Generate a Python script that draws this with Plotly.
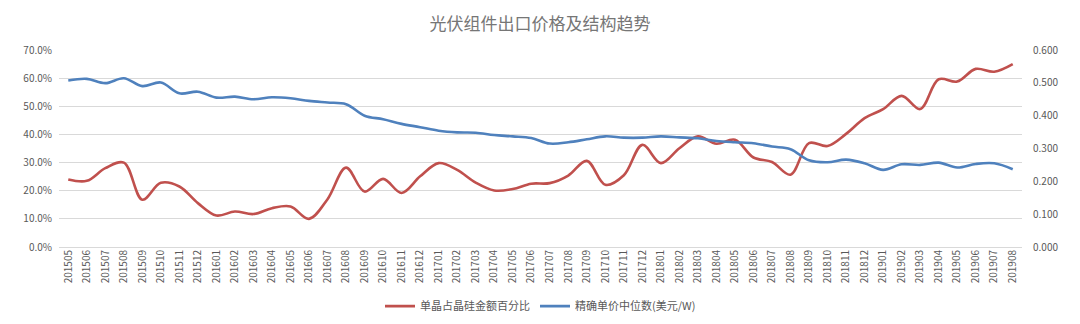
import plotly.graph_objects as go

months = [
    "201505", "201506", "201507", "201508", "201509", "201510", "201511", "201512",
    "201601", "201602", "201603", "201604", "201605", "201606", "201607", "201608",
    "201609", "201610", "201611", "201612", "201701", "201702", "201703", "201704",
    "201705", "201706", "201707", "201708", "201709", "201710", "201711", "201712",
    "201801", "201802", "201803", "201804", "201805", "201806", "201807", "201808",
    "201809", "201810", "201811", "201812", "201901", "201902", "201903", "201904",
    "201905", "201906", "201907", "201908",
]

# 单晶占晶硅金额百分比 (%)
mono_share = [
    24.0, 23.5, 28.0, 30.0, 16.8, 22.8, 21.5, 15.6, 11.2, 12.6, 11.7, 13.8, 14.4,
    10.0, 17.0, 28.2, 19.7, 24.2, 19.2, 25.1, 29.8, 27.4, 22.9, 20.1, 20.6, 22.5,
    22.7, 25.4, 30.6, 22.1, 25.5, 36.3, 29.8, 35.1, 39.3, 36.7, 38.1, 31.8, 30.2,
    25.7, 36.9, 35.9, 40.2, 45.8, 49.0, 53.7, 49.0, 59.6, 58.8, 63.3, 62.3, 65.0,
]

# 精确单价中位数 (美元/W)
median_price = [
    0.507, 0.512, 0.499, 0.514, 0.490, 0.501, 0.468, 0.473, 0.455, 0.458, 0.450,
    0.456, 0.453, 0.445, 0.440, 0.435, 0.400, 0.389, 0.375, 0.365, 0.354, 0.349,
    0.348, 0.341, 0.337, 0.332, 0.315, 0.319, 0.328, 0.337, 0.333, 0.333, 0.337,
    0.334, 0.331, 0.323, 0.319, 0.316, 0.306, 0.298, 0.264, 0.258, 0.266, 0.255,
    0.235, 0.252, 0.250, 0.257, 0.242, 0.253, 0.255, 0.237,
]

left_ticks = [0, 10, 20, 30, 40, 50, 60, 70]
left_labels = ["0.0%", "10.0%", "20.0%", "30.0%", "40.0%", "50.0%", "60.0%", "70.0%"]
right_ticks = [0.0, 0.1, 0.2, 0.3, 0.4, 0.5, 0.6]

RED = "#C0504D"
BLUE = "#4F81BD"
TEXT = "#595959"
TITLE = "#767676"
GRID = "#D9D9D9"
FONT = "Noto Sans CJK SC, Noto Sans, sans-serif"

fig = go.Figure()
fig.add_trace(go.Scatter(
    x=months, y=mono_share, name="单晶占晶硅金额百分比",
    mode="lines", line=dict(color=RED, width=2.6, shape="spline", smoothing=1.0),
    yaxis="y",
))
fig.add_trace(go.Scatter(
    x=months, y=median_price, name="精确单价中位数(美元/W)",
    mode="lines", line=dict(color=BLUE, width=2.6, shape="spline", smoothing=1.0),
    yaxis="y2",
))

fig.update_layout(
    width=1080, height=324,
    margin=dict(l=59, r=58, t=50, b=77, autoexpand=False),
    paper_bgcolor="white", plot_bgcolor="white",
    font=dict(family=FONT, color=TEXT, size=10),
    title=dict(text="光伏组件出口价格及结构趋势", x=0.5, xanchor="center",
               y=0.925, yanchor="middle", font=dict(size=17, color=TITLE, family=FONT)),
    showlegend=True,
    legend=dict(orientation="h", x=0.5, xanchor="center", y=-0.30, yanchor="middle",
                font=dict(size=11, color=TEXT), itemwidth=30,
                bgcolor="rgba(0,0,0,0)"),
    xaxis=dict(
        type="category", tickangle=-90, showgrid=False, ticks="",
        showline=False, zeroline=False, tickfont=dict(size=10, color=TEXT),
        range=[-0.5, len(months) - 0.5], automargin=False,
    ),
    yaxis=dict(
        range=[0, 70], tickvals=left_ticks, ticktext=left_labels,
        showgrid=True, gridcolor=GRID, gridwidth=1, zeroline=True,
        zerolinecolor=GRID, zerolinewidth=1, showline=False, ticks="",
        ticklabelstandoff=6, tickfont=dict(size=10, color=TEXT), automargin=False,
    ),
    yaxis2=dict(
        range=[0, 0.6], tickvals=right_ticks, tickformat=".3f",
        overlaying="y", side="right", showgrid=False, zeroline=False,
        showline=False, ticks="", ticklabelstandoff=10,
        tickfont=dict(size=10, color=TEXT), automargin=False,
    ),
)

fig.write_html("out.html")
